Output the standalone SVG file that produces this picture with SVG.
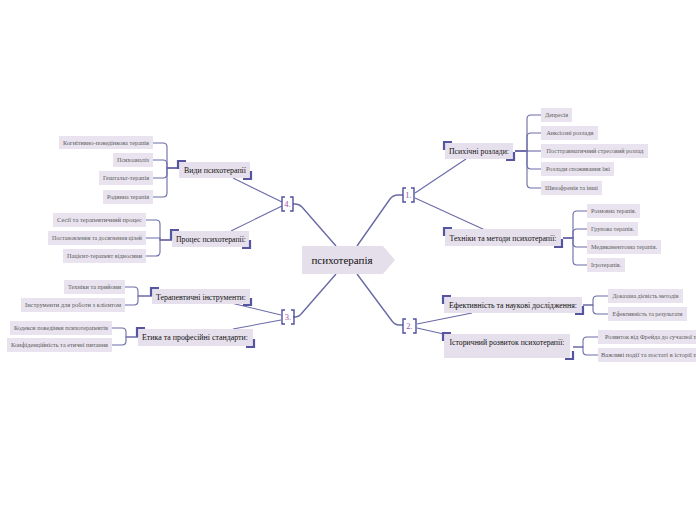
<svg xmlns="http://www.w3.org/2000/svg" width="696" height="520" viewBox="0 0 696 520">
<style>
.bg{fill:#ffffff}
.leaf rect{fill:#e8e3ee}
.leaf text{font-family:"Liberation Serif",serif;font-size:6px;fill:#5a5a5a;text-anchor:middle}
.topic rect{fill:#e6e0ec}
.topic text{font-family:"Liberation Serif",serif;font-size:8.5px;fill:#111;text-anchor:middle}
.brk{fill:none;stroke:#5656a0;stroke-width:2.2}
.con path,.con line{fill:none;stroke:#6a6aa8;stroke-width:1.1}
.main path{fill:none;stroke:#6a6aa8;stroke-width:1.4}
.mk path{fill:none;stroke:#5050a0;stroke-width:1.4}
.mk text{font-family:"Liberation Serif",serif;font-size:8.5px;fill:#a0559e;text-anchor:middle}
.center text{font-family:"Liberation Serif",serif;font-size:11px;fill:#111;text-anchor:middle}
</style>
<rect class="bg" x="0" y="0" width="696" height="520"/>

<g id="connectors">
  <g class="main">
    <path d="M357,246 L390,199 Q393,195 398,195 L403,195"/>
    <path d="M357,274 L392,321 Q395,325 399,325 L403,325"/>
    <path d="M336,274 L302,313 Q299,317 295,317 L293,317"/>
    <path d="M336,246 L302,207 Q299,204 295,204 L293,204"/>
  </g>
  <g class="con">
    <line x1="415" y1="193" x2="466" y2="159"/>
    <line x1="415" y1="198" x2="485" y2="230"/>
    <line x1="417" y1="324" x2="472" y2="313"/>
    <line x1="417" y1="328" x2="448" y2="335"/>
    <line x1="281" y1="315" x2="227" y2="302"/>
    <line x1="281" y1="320" x2="233" y2="329"/>
    <line x1="282" y1="202" x2="233" y2="178"/>
    <line x1="282" y1="206" x2="231" y2="231"/>
    <path d="M515,151 H527 V119 Q527,115 531,115 H541"/>
    <path d="M515,151 H527 V137 Q527,133 531,133 H541"/>
    <path d="M515,151 H541"/>
    <path d="M515,151 H527 V165 Q527,169 531,169 H541"/>
    <path d="M515,151 H527 V184 Q527,188 531,188 H541"/>
    <path d="M563,238 H573 V215 Q573,211 577,211 H587"/>
    <path d="M563,238 H573 V233 Q573,229 577,229 H587"/>
    <path d="M563,238 H573 V243 Q573,247 577,247 H587"/>
    <path d="M563,238 H573 V261 Q573,265 577,265 H587"/>
    <path d="M583,305 H593 V300 Q593,296 597,296 H608"/>
    <path d="M583,305 H593 V310 Q593,314 597,314 H608"/>
    <path d="M573,347 H583 V341 Q583,337 587,337 H598"/>
    <path d="M573,347 H583 V351 Q583,355 587,355 H598"/>
    <path d="M179,168 H167 V147 Q167,143 163,143 H153"/>
    <path d="M179,168 H167 V164 Q167,160 163,160 H153"/>
    <path d="M179,168 H167 V174 Q167,178 163,178 H153"/>
    <path d="M179,168 H167 V193 Q167,197 163,197 H153"/>
    <path d="M172,240 H160 V224 Q160,220 156,220 H146"/>
    <path d="M172,240 H160 V238 Q160,238 156,238 H146"/>
    <path d="M172,240 H160 V252 Q160,256 156,256 H146"/>
    <path d="M152,296 H138 V291 Q138,287 134,287 H125"/>
    <path d="M152,296 H138 V301 Q138,305 134,305 H125"/>
    <path d="M138,337 H126 V332 Q126,328 122,328 H112"/>
    <path d="M138,337 H126 V341 Q126,345 122,345 H112"/>
  </g>
</g>

<g id="center" class="center">
  <path d="M302,246 H383 L395,260 L383,274 H302 Z" fill="#e5dfeb"/>
  <text x="342" y="264">психотерапія</text>
</g>

<g id="m1" class="mk"><path d="M406,188 H403 V202 H406 M411,188 H414 V202 H411"/><text x="408.5" y="198">1.</text></g>
<g id="m2" class="mk"><path d="M406,319 H403 V333 H406 M413,319 H416 V333 H413"/><text x="409.5" y="329">2.</text></g>
<g id="m3" class="mk"><path d="M285,310 H282 V324 H285 M291,310 H294 V324 H291"/><text x="288" y="320">3.</text></g>
<g id="m4" class="mk"><path d="M285,197 H282 V211 H285 M290,197 H293 V211 H290"/><text x="287.5" y="207">4.</text></g>

<g id="t1" class="topic"><rect x="445" y="143" width="68" height="16"/><path class="brk" d="M444,150 V142 H452 M514,152 V160 H506"/><text x="479" y="154" textLength="60" lengthAdjust="spacingAndGlyphs">Психічні розлади:</text></g>
<g id="t2" class="topic"><rect x="445" y="229" width="116" height="17"/><path class="brk" d="M444,236 V228 H452 M562,239 V247 H554"/><text x="503" y="241" textLength="107" lengthAdjust="spacingAndGlyphs">Техніки та методи психотерапії:</text></g>
<g id="t3" class="topic"><rect x="444" y="297" width="138" height="16"/><path class="brk" d="M443,304 V296 H451 M583,306 V314 H575"/><text x="513" y="308" textLength="128" lengthAdjust="spacingAndGlyphs">Ефективність та наукові дослідження:</text></g>
<g id="t4" class="topic"><rect x="444" y="334" width="126" height="24"/><path class="brk" d="M443,341 V333 H451 M573,351 V359 H565"/><text x="507" y="345" textLength="115" lengthAdjust="spacingAndGlyphs">Історичний розвиток психотерапії:</text></g>
<g id="t5" class="topic"><rect x="179" y="162" width="71" height="16"/><path class="brk" d="M178,169 V161 H186 M251,171 V179 H243"/><text x="215" y="173" textLength="62" lengthAdjust="spacingAndGlyphs">Види психотерапії</text></g>
<g id="t6" class="topic"><rect x="172" y="231" width="77" height="16"/><path class="brk" d="M171,240 V230 H179 M250,240 V248 H242"/><text x="211" y="242" textLength="70" lengthAdjust="spacingAndGlyphs">Процес психотерапії:</text></g>
<g id="t7" class="topic"><rect x="152" y="289" width="98" height="15"/><path class="brk" d="M151,296 V288 H159 M251,298 V305 H243"/><text x="201" y="300" textLength="90" lengthAdjust="spacingAndGlyphs">Терапевтичні інструменти:</text></g>
<g id="t8" class="topic"><rect x="138" y="329" width="115" height="17"/><path class="brk" d="M137,337 V328 H145 M254,339 V347 H246"/><text x="195" y="340" textLength="106" lengthAdjust="spacingAndGlyphs">Етика та професійні стандарти:</text></g>

<g id="l1" class="leaf"><rect x="541" y="108" width="31" height="14"/><text x="556.5" y="117" textLength="23" lengthAdjust="spacingAndGlyphs">Депресія</text></g>
<g id="l2" class="leaf"><rect x="541" y="126" width="57" height="14"/><text x="570" y="135" textLength="47" lengthAdjust="spacingAndGlyphs">Анксіозні розлади</text></g>
<g id="l3" class="leaf"><rect x="541" y="144" width="107" height="14"/><text x="595" y="153" textLength="97" lengthAdjust="spacingAndGlyphs">Посттравматичний стресовий розлад</text></g>
<g id="l4" class="leaf"><rect x="541" y="162" width="73" height="14"/><text x="578" y="171" textLength="64" lengthAdjust="spacingAndGlyphs">Розлади споживання їжі</text></g>
<g id="l5" class="leaf"><rect x="541" y="181" width="61" height="14"/><text x="571.5" y="190" textLength="53" lengthAdjust="spacingAndGlyphs">Шизофренія та інші</text></g>
<g id="l6" class="leaf"><rect x="587" y="204" width="53" height="14"/><text x="613.5" y="213" textLength="45" lengthAdjust="spacingAndGlyphs">Розмовна терапія.</text></g>
<g id="l7" class="leaf"><rect x="587" y="222" width="51" height="14"/><text x="612.5" y="231" textLength="43" lengthAdjust="spacingAndGlyphs">Групова терапія.</text></g>
<g id="l8" class="leaf"><rect x="587" y="240" width="74" height="14"/><text x="624" y="249" textLength="66" lengthAdjust="spacingAndGlyphs">Медикаментозна терапія.</text></g>
<g id="l9" class="leaf"><rect x="587" y="258" width="38" height="14"/><text x="606" y="267" textLength="30" lengthAdjust="spacingAndGlyphs">Ігротерапія.</text></g>
<g id="l10" class="leaf"><rect x="608" y="289" width="75" height="14"/><text x="645.5" y="298" textLength="66" lengthAdjust="spacingAndGlyphs">Доказана дієвість методів</text></g>
<g id="l11" class="leaf"><rect x="608" y="307" width="79" height="14"/><text x="647.5" y="316" textLength="70" lengthAdjust="spacingAndGlyphs">Ефективність та результати</text></g>
<g id="l12" class="leaf"><rect x="598" y="330" width="110" height="14"/><text x="605" y="339" style="text-anchor:start" textLength="92" lengthAdjust="spacingAndGlyphs">Розвиток від Фрейда до сучасної п</text></g>
<g id="l13" class="leaf"><rect x="598" y="348" width="110" height="14"/><text x="601" y="357" style="text-anchor:start" textLength="96" lengthAdjust="spacingAndGlyphs">Важливі події та постаті в історії п</text></g>

<g id="l14" class="leaf"><rect x="59" y="136" width="94" height="13"/><text x="106" y="145" textLength="86" lengthAdjust="spacingAndGlyphs">Когнітивно-поведінкова терапія</text></g>
<g id="l15" class="leaf"><rect x="113" y="153" width="40" height="14"/><text x="133" y="162" textLength="32" lengthAdjust="spacingAndGlyphs">Психоаналіз</text></g>
<g id="l16" class="leaf"><rect x="99" y="171" width="54" height="14"/><text x="126" y="180" textLength="46" lengthAdjust="spacingAndGlyphs">Гештальт-терапія</text></g>
<g id="l17" class="leaf"><rect x="103" y="190" width="50" height="14"/><text x="128" y="199" textLength="42" lengthAdjust="spacingAndGlyphs">Родинна терапія</text></g>
<g id="l18" class="leaf"><rect x="53" y="213" width="93" height="14"/><text x="99.5" y="222" textLength="85" lengthAdjust="spacingAndGlyphs">Сесії та терапевтичний процес</text></g>
<g id="l19" class="leaf"><rect x="48" y="231" width="98" height="14"/><text x="97" y="240" textLength="90" lengthAdjust="spacingAndGlyphs">Постановлення та досягнення цілей</text></g>
<g id="l20" class="leaf"><rect x="63" y="249" width="83" height="14"/><text x="104.5" y="258" textLength="75" lengthAdjust="spacingAndGlyphs">Пацієнт-терапевт відносини</text></g>
<g id="l21" class="leaf"><rect x="64" y="280" width="61" height="14"/><text x="94.5" y="289" textLength="53" lengthAdjust="spacingAndGlyphs">Техніки та прийоми</text></g>
<g id="l22" class="leaf"><rect x="21" y="298" width="104" height="14"/><text x="73" y="307" textLength="96" lengthAdjust="spacingAndGlyphs">Інструменти для роботи з клієнтом</text></g>
<g id="l23" class="leaf"><rect x="10" y="321" width="102" height="14"/><text x="61" y="330" textLength="94" lengthAdjust="spacingAndGlyphs">Кодекси поведінки психотерапевтів</text></g>
<g id="l24" class="leaf"><rect x="7" y="338" width="105" height="14"/><text x="59.5" y="347" textLength="97" lengthAdjust="spacingAndGlyphs">Конфіденційність та етичні питання</text></g>
</svg>
